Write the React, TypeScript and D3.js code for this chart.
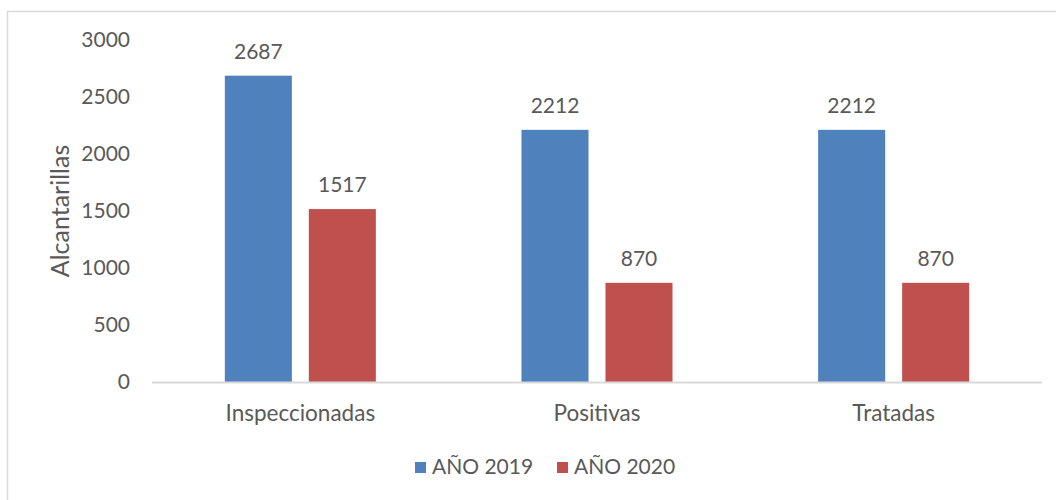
import React from "react";
import * as d3 from "d3";

const categories = ["Inspeccionadas", "Positivas", "Tratadas"];
const seriesNames = ["AÑO 2019", "AÑO 2020"];
const values2019 = [2687, 2212, 2212];
const values2020 = [1517, 870, 870];
const yTicks = [0, 500, 1000, 1500, 2000, 2500, 3000];
const colors = ["#4F81BD", "#C0504D"];

const W = 1056;
const H = 500;
const FONT = "Lato, 'Open Sans', sans-serif";
const TEXT = "#595959";

export default function App() {
  const x0 = d3.scaleBand<string>().domain(categories).range([152, 1042]).padding(0);
  const x1 = d3
    .scaleBand<string>()
    .domain(seriesNames)
    .range([0, x0.bandwidth()])
    .paddingInner(0.202)
    .paddingOuter(0.867);
  const y = d3.scaleLinear().domain([0, 3000]).range([382, 40]);
  const series = [values2019, values2020];

  return (
    <svg
      width={W}
      height={H}
      style={{ position: "absolute", left: 0, top: 0, background: "#fff" }}
      fontFamily={FONT}
    >
      <rect x={7.5} y={11.5} width={W + 10} height={H + 10} fill="#fff" stroke="#d9d9d9" strokeWidth={1.5} />
      {yTicks.map((t) => (
        <text key={t} x={130} y={y(t)} dy="0.35em" textAnchor="end" fontSize={21} fill={TEXT}>
          {t}
        </text>
      ))}
      <text
        transform={`translate(60,${211}) rotate(-90)`}
        textAnchor="middle"
        dy="0.35em"
        fontSize={25}
        fill={TEXT}
      >
        Alcantarillas
      </text>
      {categories.map((c, i) => (
        <g key={c} transform={`translate(${x0(c)},0)`}>
          {seriesNames.map((s, j) => {
            const v = series[j][i];
            const bx = x1(s)!;
            return (
              <g key={s}>
                <rect x={bx} y={y(v)} width={x1.bandwidth()} height={y(0) - y(v)} fill={colors[j]} />
                <text
                  x={bx + x1.bandwidth() / 2}
                  y={y(v) - 24}
                  dy="0.35em"
                  textAnchor="middle"
                  fontSize={21}
                  fill={TEXT}
                >
                  {v}
                </text>
              </g>
            );
          })}
          <text x={x0.bandwidth() / 2} y={413} dy="0.35em" textAnchor="middle" fontSize={22.5} fill={TEXT}>
            {c}
          </text>
        </g>
      ))}
      <line x1={152} x2={1042} y1={382.5} y2={382.5} stroke="#d9d9d9" strokeWidth={2} />
      {seriesNames.map((s, j) => {
        const lx = j === 0 ? 415 : 557;
        return (
          <g key={s}>
            <rect x={lx} y={462} width={11} height={11} fill={colors[j]} />
            <text x={lx + 17} y={467} dy="0.35em" fontSize={21} fill={TEXT}>
              {s}
            </text>
          </g>
        );
      })}
    </svg>
  );
}
